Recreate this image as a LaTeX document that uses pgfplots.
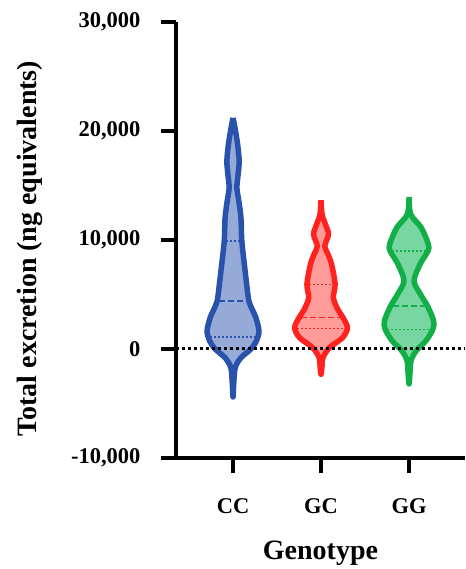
\documentclass[border=0pt]{standalone}
\usepackage{fontspec}
\setmainfont{Liberation Serif}
\usepackage{pgfplots}
\pgfplotsset{compat=1.18}
\definecolor{cblue}{RGB}{40,82,172}
\definecolor{cbluef}{RGB}{150,170,215}
\definecolor{cred}{RGB}{255,34,30}
\definecolor{credf}{RGB}{255,155,152}
\definecolor{cgreen}{RGB}{18,174,72}
\definecolor{cgreenf}{RGB}{120,215,160}
\begin{document}
\begin{tikzpicture}
\begin{axis}[
  scale only axis, width=289pt, height=436pt,
  xmin=-0.648, xmax=2.636, ymin=-10000, ymax=30000,
  axis x line=bottom, axis y line=left,
  axis line style={-, line width=4.5pt},
  xtick={0,1,2}, xticklabels={CC,GC,GG},
  ytick={-10000,0,10000,20000,30000},
  tick style={line width=4.5pt, black},
  tick align=outside, major tick length=15pt,
  scaled y ticks=false,
  /pgf/number format/.cd, 1000 sep={,}, assume math mode=true, /pgfplots/.cd,
  tick label style={font=\fontsize{22.5}{26}\selectfont\bfseries},
  yticklabel style={xshift=-17pt},
  xticklabel style={yshift=-22pt},
  label style={font=\fontsize{28}{32}\selectfont\bfseries},
  xlabel={Genotype},
  ylabel={Total excretion (ng equivalents)},
  xlabel style={at={(axis description cs:0.5,0)}, anchor=center, yshift=-95pt},
  ylabel style={at={(axis description cs:-0.505,0.48)}, anchor=center},
  clip=false,
]
% CC violin
\addplot[smooth, draw=cblue, fill=cbluef, line width=5.5pt, line join=round] coordinates {
(0,21200) (0.022,20290) (0.052,18770) (0.07,17240) (0.058,16020) (0.044,14790) (0.066,13570) (0.09,12040) (0.10,9900) (0.133,7460) (0.155,5930) (0.18,4400) (0.22,3600) (0.26,2870) (0.295,1650) (0.265,730) (0.2,-30) (0.09,-800) (0.025,-1710) (0.008,-3200)
(0,-4400)
(-0.008,-3200) (-0.025,-1710) (-0.09,-800) (-0.2,-30) (-0.265,730) (-0.295,1650) (-0.26,2870) (-0.22,3600) (-0.18,4400) (-0.155,5930) (-0.133,7460) (-0.10,9900) (-0.09,12040) (-0.066,13570) (-0.044,14790) (-0.058,16020) (-0.07,17240) (-0.052,18770) (-0.022,20290) (0,21200)
};
% GC violin
\addplot[smooth, draw=cred, fill=credf, line width=5.5pt, line join=round] coordinates {
(1,13650) (1.012,12350) (1.05,11430) (1.085,10520) (1.042,9440) (1.08,8680) (1.12,7770) (1.16,5930) (1.14,4700) (1.19,3640) (1.25,2870) (1.30,1950) (1.245,1040) (1.095,120) (1.022,-800) (1.01,-1710)
(1,-2320)
(0.99,-1710) (0.978,-800) (0.905,120) (0.755,1040) (0.70,1950) (0.75,2870) (0.81,3640) (0.86,4700) (0.84,5930) (0.88,7770) (0.92,8680) (0.958,9440) (0.915,10520) (0.95,11430) (0.988,12350) (1,13650)
};
% GG violin
\addplot[smooth, draw=cgreen, fill=cgreenf, line width=5.5pt, line join=round] coordinates {
(2,13950) (2.02,12350) (2.14,11120) (2.22,9600) (2.215,8990) (2.125,7770) (2.057,6240) (2.13,5020) (2.21,3940) (2.28,2570) (2.27,1800) (2.19,730) (2.08,-180) (2.022,-1100) (2.01,-2320)
(2,-3200)
(1.99,-2320) (1.978,-1100) (1.92,-180) (1.81,730) (1.73,1800) (1.72,2570) (1.79,3940) (1.87,5020) (1.943,6240) (1.875,7770) (1.785,8990) (1.78,9600) (1.86,11120) (1.98,12350) (2,13950)
};
% quartiles CC
\addplot[cblue, line width=1.5pt, dash pattern=on 2pt off 2pt] coordinates {(-0.075,9900) (0.075,9900)};
\addplot[cblue, line width=1.5pt, dash pattern=on 6pt off 3pt] coordinates {(-0.155,4400) (0.155,4400)};
\addplot[cblue, line width=1.5pt, dash pattern=on 2pt off 2pt] coordinates {(-0.26,1100) (0.26,1100)};
% quartiles GC
\addplot[cred, line width=1.5pt, dash pattern=on 2pt off 2pt] coordinates {(0.865,5930) (1.135,5930)};
\addplot[cred, line width=1.5pt, dash pattern=on 6pt off 3pt] coordinates {(0.775,2870) (1.225,2870)};
\addplot[cred, line width=1.5pt, dash pattern=on 2pt off 2pt] coordinates {(0.725,1900) (1.275,1900)};
% quartiles GG
\addplot[cgreen, line width=1.5pt, dash pattern=on 2pt off 2pt] coordinates {(1.81,8990) (2.19,8990)};
\addplot[cgreen, line width=1.5pt, dash pattern=on 6pt off 3pt] coordinates {(1.815,3940) (2.185,3940)};
\addplot[cgreen, line width=1.5pt, dash pattern=on 2pt off 2pt] coordinates {(1.755,1800) (2.245,1800)};
% zero line
\addplot[black, line width=3pt, dash pattern=on 3pt off 3pt] coordinates {(-0.648,0) (2.636,0)};
\coordinate (bl) at (rel axis cs:0,0);
\coordinate (tr) at (rel axis cs:1,1);
\end{axis}
\pgfresetboundingbox
\path ([shift={(-176pt,-111pt)}]bl) rectangle ([shift={(0pt,22pt)}]tr);
\end{tikzpicture}
\end{document}
